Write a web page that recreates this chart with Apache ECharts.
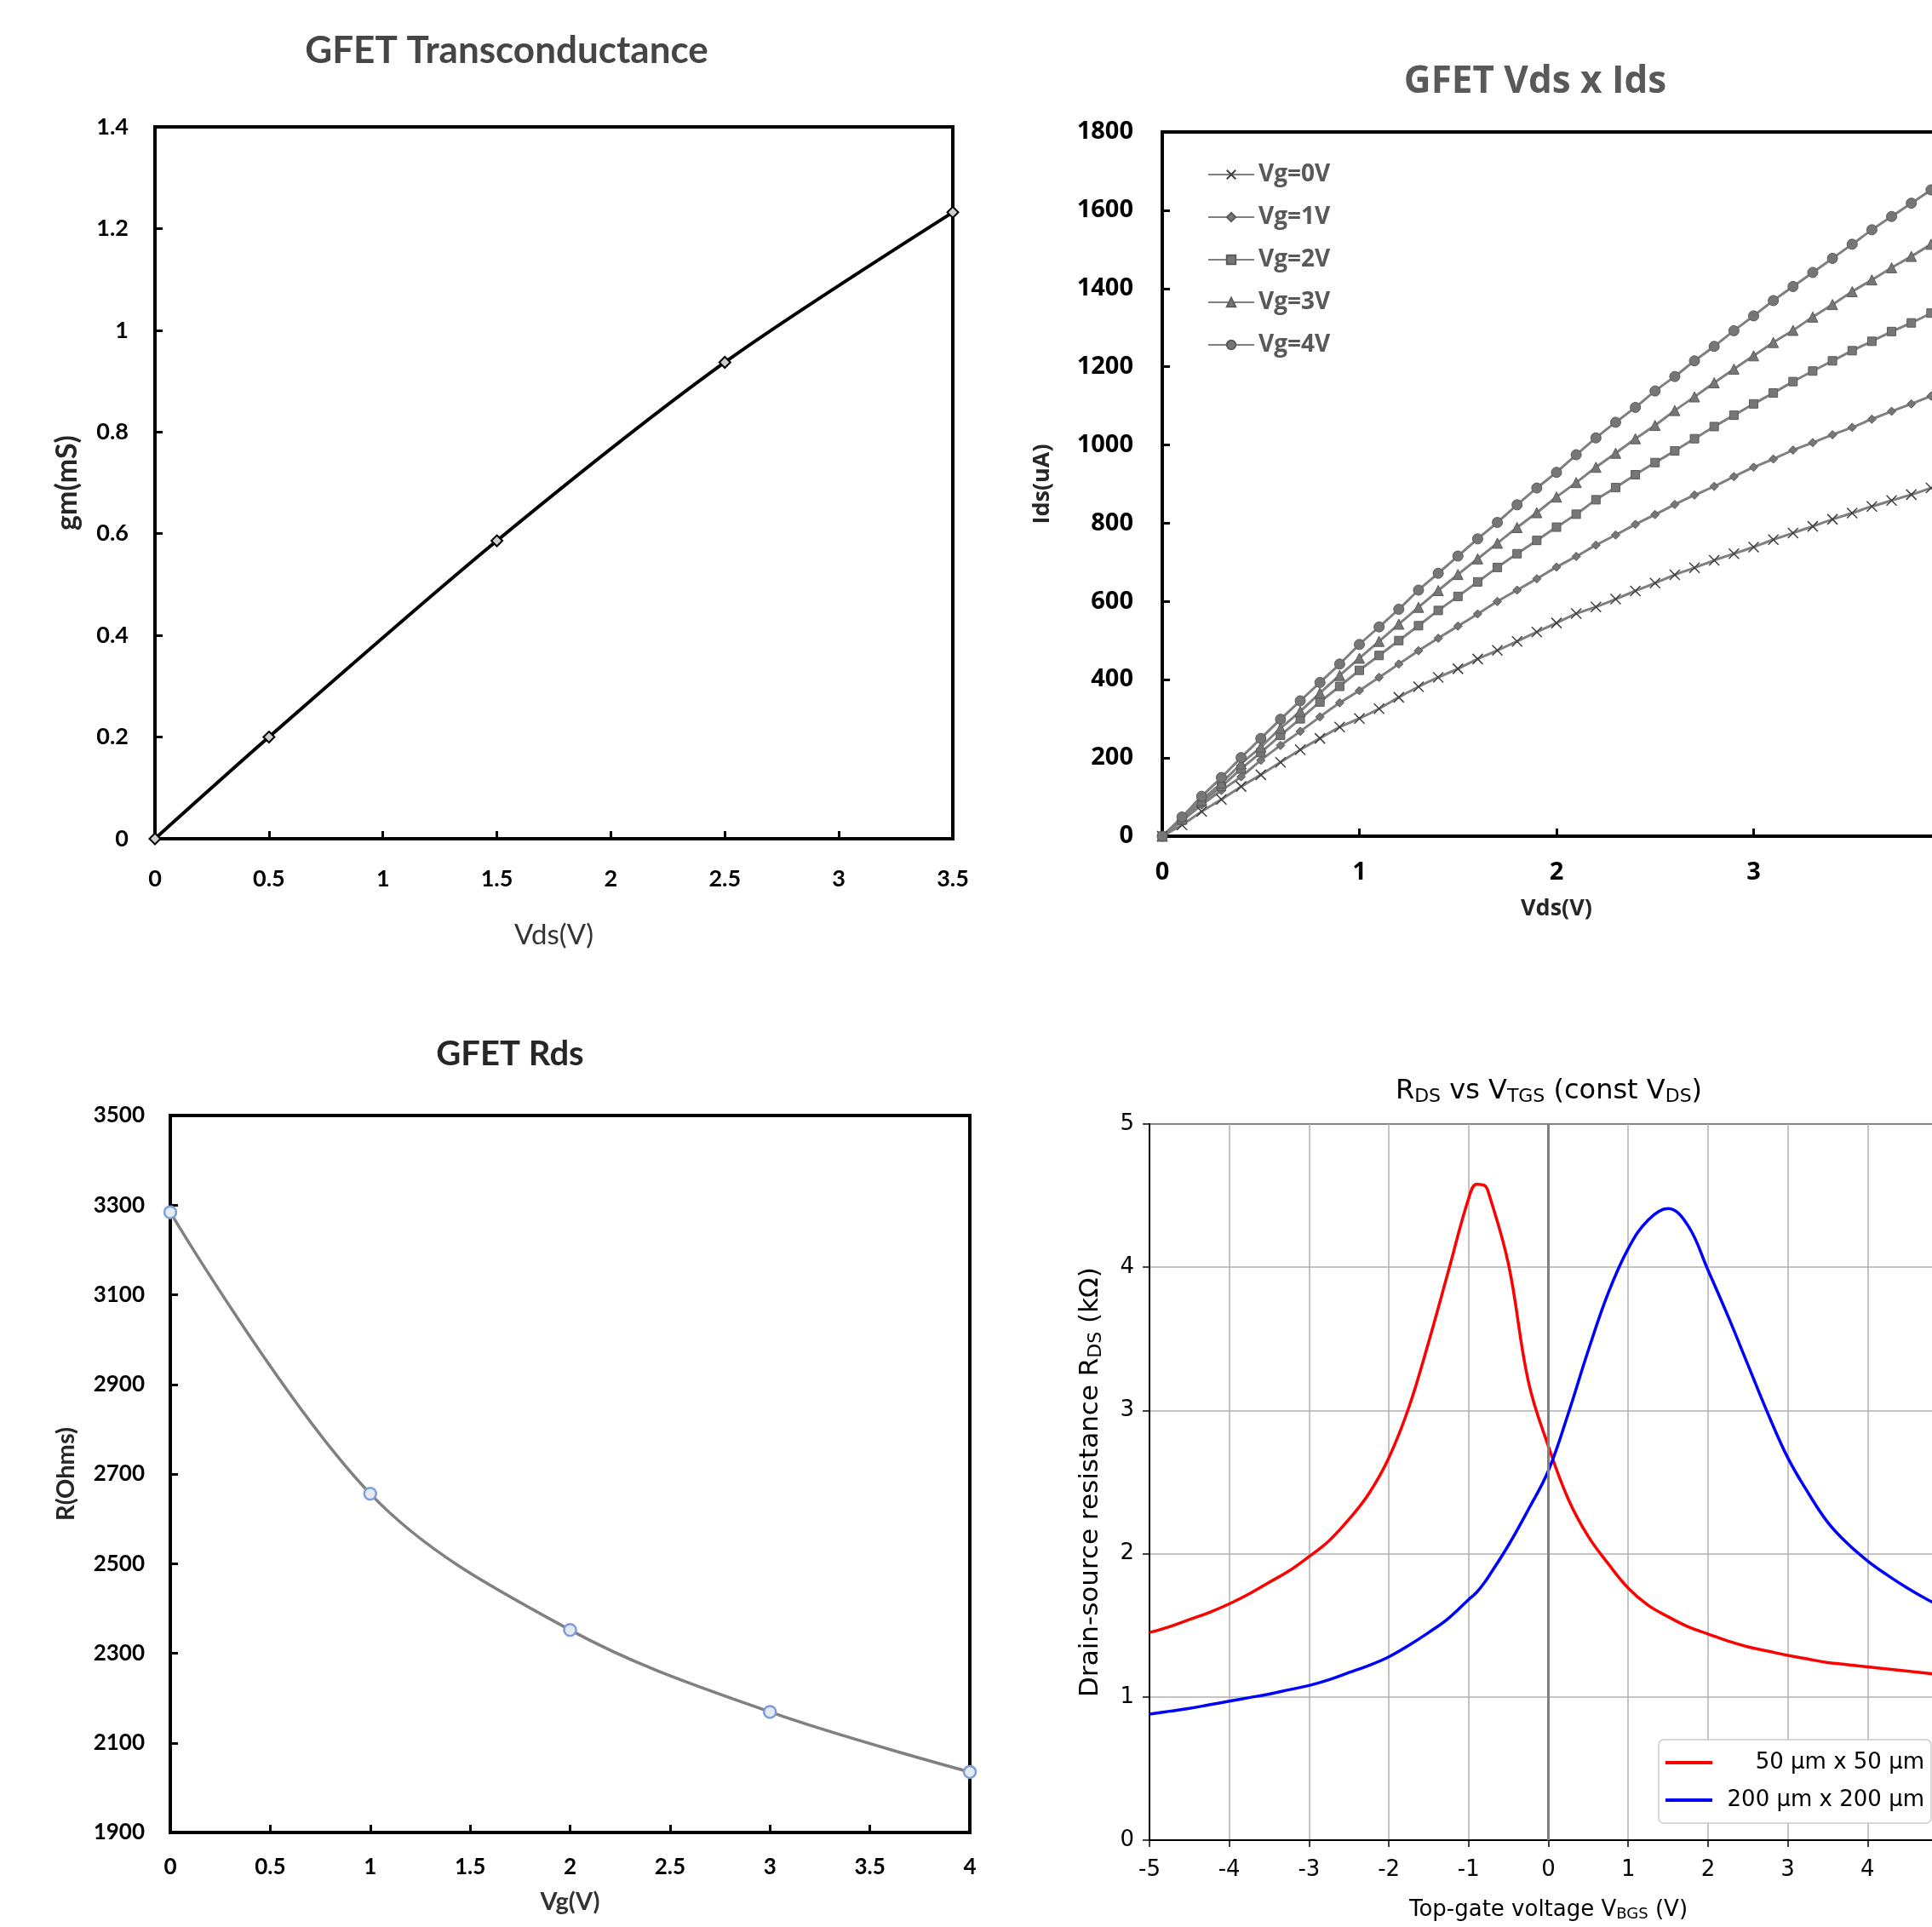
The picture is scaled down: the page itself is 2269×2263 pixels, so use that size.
<!DOCTYPE html>
<html>
<head>
<meta charset="utf-8">
<title>GFET characteristics</title>
<script src="https://cdn.jsdelivr.net/npm/echarts@6.0.0/dist/echarts.min.js"></script>
<style>
  html, body { margin: 0; padding: 0; background: #fff; }
  #main { width: 2269px; height: 2263px; }
</style>
</head>
<body>
<div id="main"></div>
<script>
// --- GFET Transconductance ---
var gmVds = [0, 0.5, 1.5, 2.5, 3.5];
var gmValues = [0, 0.2, 0.586, 0.937, 1.232];

// --- GFET Vds x Ids (uA), one point every 0.1 V ---
var idsNames = ['Vg=0V', 'Vg=1V', 'Vg=2V', 'Vg=3V', 'Vg=4V'];
var idsVds = [0, 0.1, 0.2, 0.3, 0.4, 0.5, 0.6, 0.7, 0.8, 0.9, 1, 1.1, 1.2, 1.3, 1.4, 1.5, 1.6, 1.7, 1.8, 1.9,
  2, 2.1, 2.2, 2.3, 2.4, 2.5, 2.6, 2.7, 2.8, 2.9, 3, 3.1, 3.2, 3.3, 3.4, 3.5, 3.6, 3.7, 3.8, 3.9];
var idsVg0 = [0, 29, 63, 94, 127, 157, 189, 221, 250, 279, 301, 326, 355, 382, 406, 428, 453, 475, 498, 522,
  545, 569, 586, 606, 627, 647, 668, 686, 705, 722, 739, 758, 775, 792, 810, 826, 843, 858, 873, 890];
var idsVg1 = [0, 39, 80, 117, 152, 194, 232, 268, 305, 341, 372, 406, 440, 474, 506, 537, 568, 600, 629, 658,
  688, 715, 744, 770, 797, 822, 848, 872, 894, 919, 943, 964, 987, 1006, 1026, 1045, 1066, 1086, 1105, 1125];
var idsVg2 = [0, 41, 87, 127, 172, 214, 258, 300, 343, 383, 424, 462, 500, 538, 577, 613, 650, 687, 722, 756,
  790, 823, 860, 891, 924, 955, 985, 1016, 1047, 1076, 1105, 1133, 1162, 1189, 1215, 1241, 1265, 1290, 1312, 1337];
var idsVg3 = [0, 44, 92, 136, 185, 228, 276, 319, 366, 411, 455, 498, 542, 585, 628, 669, 709, 749, 789, 827,
  867, 904, 943, 979, 1016, 1050, 1088, 1123, 1159, 1194, 1228, 1262, 1293, 1327, 1359, 1392, 1422, 1453, 1482, 1513];
var idsVg4 = [0, 49, 102, 150, 201, 250, 299, 346, 393, 440, 490, 535, 580, 629, 672, 716, 760, 802, 847, 890,
  930, 975, 1018, 1058, 1096, 1138, 1175, 1215, 1252, 1292, 1330, 1369, 1405, 1441, 1477, 1513, 1550, 1584, 1618, 1652];

// --- GFET Rds ---
var rdsVg = [0, 1, 2, 3, 4];
var rdsOhms = [3284, 2656, 2352, 2169, 2035];

// --- RDS vs VTGS (kOhm) ---
var rdsNames = ['50 µm x 50 µm', '200 µm x 200 µm'];
var vtgs = [-5, -4.75, -4.5, -4.25, -4, -3.75, -3.5, -3.25, -3, -2.75, -2.5, -2.25, -2, -1.75, -1.5, -1.25,
  -1, -0.9, -0.8, -0.75, -0.5, -0.25, 0, 0.25, 0.5, 0.75, 1, 1.25, 1.5, 1.75, 2, 2.25, 2.5, 2.75,
  3, 3.25, 3.5, 3.75, 4, 4.25, 4.5, 4.75, 5];
var rds50 = [1.45, 1.49, 1.54, 1.59, 1.65, 1.72, 1.80, 1.88, 1.98, 2.09, 2.24, 2.42, 2.67, 3.02, 3.48, 3.98,
  4.48, 4.58, 4.57, 4.52, 4.02, 3.2, 2.75, 2.38, 2.12, 1.93, 1.76, 1.64, 1.56, 1.49, 1.44, 1.39, 1.35, 1.32,
  1.29, 1.265, 1.24, 1.225, 1.21, 1.195, 1.18, 1.165, 1.15];
var rds200 = [0.88, 0.90, 0.92, 0.945, 0.97, 0.995, 1.02, 1.05, 1.08, 1.12, 1.17, 1.22, 1.28, 1.36, 1.45, 1.55,
  1.68, 1.73, 1.80, 1.84, 2.06, 2.31, 2.58, 2.98, 3.42, 3.82, 4.13, 4.33, 4.41, 4.29, 3.98, 3.66, 3.32, 2.98,
  2.67, 2.43, 2.22, 2.07, 1.95, 1.85, 1.76, 1.68, 1.61];

function pairs(xs, ys) {
  return xs.map(function (x, i) { return [x, ys[i]]; });
}

// 去掉千位分隔符
function plainNumber(v) {
  return String(parseFloat(Number(v).toFixed(3)));
}

var idsSeries = [idsVg0, idsVg1, idsVg2, idsVg3, idsVg4];
var idsSymbols = ['path://M0,0L10,10M10,0L0,10', 'diamond', 'rect', 'triangle', 'circle'];
var idsSymbolSizes = [12, 10, 10, 12, 12];

// Excel 风格的坐标轴
function excelAxis(grid, font, size, extra) {
  var axis = {
    gridIndex: grid,
    type: 'value',
    axisLine: { show: true, onZero: false, lineStyle: { color: '#000', width: 4 } },
    axisTick: { show: true, inside: true, length: 9, lineStyle: { color: '#000', width: 3 } },
    splitLine: { show: false },
    axisLabel: { fontFamily: font, fontWeight: 'bold', fontSize: size, color: '#000', formatter: plainNumber },
    nameLocation: 'middle'
  };
  return Object.assign(axis, extra);
}

var subRich = function (size) {
  return {
    n: { fontFamily: 'DejaVu Sans', fontWeight: 'normal', fontSize: size, color: '#000' },
    s: { fontFamily: 'DejaVu Sans', fontWeight: 'normal', fontSize: Math.round(size * 0.7), color: '#000',
      padding: [Math.round(size * 0.4), 0, 0, 0] }
  };
};

var series = [];

series.push({
  name: 'gm',
  type: 'line',
  xAxisIndex: 0, yAxisIndex: 0,
  data: pairs(gmVds, gmValues),
  smooth: 0.3,
  symbol: 'diamond',
  symbolSize: 13,
  lineStyle: { color: '#000', width: 4 },
  itemStyle: { color: '#cfcfcf', borderColor: '#000', borderWidth: 2 }
});

idsSeries.forEach(function (vals, i) {
  series.push({
    name: idsNames[i],
    type: 'line',
    xAxisIndex: 1, yAxisIndex: 1,
    data: pairs(idsVds, vals),
    smooth: 0.2,
    symbol: idsSymbols[i],
    symbolSize: idsSymbolSizes[i],
    lineStyle: { color: '#7f7f7f', width: 3 },
    itemStyle: i === 0
      ? { color: '#404040', borderColor: '#404040', borderWidth: 1.5 }
      : { color: '#767676', borderColor: '#5a5a5a', borderWidth: 1 }
  });
});

series.push({
  name: 'Rds',
  type: 'line',
  xAxisIndex: 2, yAxisIndex: 2,
  data: pairs(rdsVg, rdsOhms),
  smooth: 0.35,
  symbol: 'circle',
  symbolSize: 14,
  lineStyle: { color: '#808080', width: 3.5 },
  itemStyle: { color: '#e4e9f3', borderColor: '#7c9fd9', borderWidth: 2.5 }
});

series.push({
  name: rdsNames[0],
  type: 'line',
  xAxisIndex: 3, yAxisIndex: 3,
  data: pairs(vtgs, rds50),
  smooth: 0.4,
  symbol: 'none',
  lineStyle: { color: '#ff0000', width: 3.5 },
  itemStyle: { color: '#ff0000' },
  markLine: {
    silent: true,
    symbol: 'none',
    label: { show: false },
    lineStyle: { color: '#7f7f7f', width: 3, type: 'solid' },
    data: [{ xAxis: 0 }]
  }
});

series.push({
  name: rdsNames[1],
  type: 'line',
  xAxisIndex: 3, yAxisIndex: 3,
  data: pairs(vtgs, rds200),
  smooth: 0.4,
  symbol: 'none',
  lineStyle: { color: '#0000ff', width: 3.5 },
  itemStyle: { color: '#0000ff' }
});

var option = {
  animation: false,
  backgroundColor: '#fff',
  title: [
    { text: 'GFET Transconductance', left: 595, top: 38, textAlign: 'center', padding: 0,
      textStyle: { fontFamily: 'Lato', fontSize: 44, fontWeight: 'bold', color: '#454545' } },
    { text: 'GFET Vds x Ids', left: 1803, top: 74, textAlign: 'center', padding: 0,
      textStyle: { fontFamily: 'Open Sans', fontSize: 44, fontWeight: 'bold', color: '#595959' } },
    { text: 'GFET Rds', left: 599, top: 1218, textAlign: 'center', padding: 0,
      textStyle: { fontFamily: 'Lato', fontSize: 40, fontWeight: 'bold', color: '#262626' } },
    { text: '{n|R}{s|DS}{n| vs V}{s|TGS}{n| (const V}{s|DS}{n|)}', left: 1819, top: 1264, textAlign: 'center', padding: 0,
      textStyle: { fontFamily: 'DejaVu Sans', fontSize: 32, fontWeight: 'normal', color: '#000', rich: subRich(32) } }
  ],
  legend: [
    {
      data: idsNames,
      orient: 'vertical',
      left: 1418, top: 191,
      padding: 0,
      itemWidth: 54, itemHeight: 13, itemGap: 22,
      textStyle: { fontFamily: 'Open Sans', fontWeight: 'bold', fontSize: 28, color: '#595959' }
    },
    {
      data: rdsNames,
      orient: 'vertical',
      left: 1948, top: 2043,
      padding: [14, 8, 14, 8],
      icon: 'rect',
      itemWidth: 55, itemHeight: 4, itemGap: 18,
      backgroundColor: '#fff',
      borderColor: '#cccccc', borderWidth: 1.5, borderRadius: 6,
      formatter: function (name) { return '{t|' + name + '}'; },
      textStyle: {
        fontFamily: 'DejaVu Sans', fontSize: 26, color: '#000',
        rich: { t: { width: 244, align: 'right', fontFamily: 'DejaVu Sans', fontSize: 26, color: '#000' } }
      }
    }
  ],
  grid: [
    { left: 182, top: 149, right: 1150, bottom: 1278, show: true, borderColor: '#000', borderWidth: 4, outerBoundsMode: 'none' },
    { left: 1365, top: 155, right: -22, bottom: 1281, show: true, borderColor: '#000', borderWidth: 4, outerBoundsMode: 'none' },
    { left: 200, top: 1310, right: 1130, bottom: 111, show: true, borderColor: '#000', borderWidth: 4, outerBoundsMode: 'none' },
    { left: 1350, top: 1320, right: -18, bottom: 102, show: true, borderColor: '#000', borderWidth: 2, outerBoundsMode: 'none' }
  ],
  xAxis: [
    excelAxis(0, 'Lato', 27, {
      min: 0, max: 3.5, interval: 0.5,
      name: 'Vds(V)', nameGap: 97,
      nameTextStyle: { fontFamily: 'Lato', fontSize: 33, color: '#333' }
    }),
    excelAxis(1, 'Open Sans', 29, {
      min: 0, max: 4, interval: 1,
      name: 'Vds(V)', nameGap: 72,
      nameTextStyle: { fontFamily: 'Open Sans', fontWeight: 'bold', fontSize: 27, color: '#262626' }
    }),
    excelAxis(2, 'Lato', 26, {
      min: 0, max: 4, interval: 0.5,
      name: 'Vg(V)', nameGap: 67,
      nameTextStyle: { fontFamily: 'Lato', fontWeight: 'bold', fontSize: 29, color: '#333' }
    }),
    {
      gridIndex: 3, type: 'value', min: -5, max: 5, interval: 1,
      axisLine: { show: true, onZero: false, lineStyle: { color: '#000', width: 2 } },
      axisTick: { show: true, inside: false, length: 8, lineStyle: { color: '#000', width: 1.5 } },
      splitLine: { show: true, lineStyle: { color: '#b0b0b0', width: 1.5 } },
      axisLabel: { margin: 22, fontFamily: 'DejaVu Sans', fontSize: 26, color: '#000' },
      name: '{n|Top-gate voltage V}{s|BGS}{n| (V)}',
      nameLocation: 'middle', nameGap: 68,
      nameTextStyle: { fontFamily: 'DejaVu Sans', fontSize: 26, color: '#000', rich: subRich(26) }
    }
  ],
  yAxis: [
    excelAxis(0, 'Lato', 27, {
      min: 0, max: 1.4, interval: 0.2,
      name: 'gm(mS)', nameGap: 86,
      nameTextStyle: { fontFamily: 'Lato', fontWeight: 'bold', fontSize: 34, color: '#262626' }
    }),
    excelAxis(1, 'Open Sans', 29, {
      min: 0, max: 1800, interval: 200,
      name: 'Ids(uA)', nameGap: 127,
      nameTextStyle: { fontFamily: 'Open Sans', fontWeight: 'bold', fontSize: 27, color: '#262626' }
    }),
    excelAxis(2, 'Lato', 26, {
      min: 1900, max: 3500, interval: 200,
      name: 'R(Ohms)', nameGap: 108,
      nameTextStyle: { fontFamily: 'Lato', fontWeight: 'bold', fontSize: 29, color: '#262626' }
    }),
    {
      gridIndex: 3, type: 'value', min: 0, max: 5, interval: 1,
      axisLine: { show: true, onZero: false, lineStyle: { color: '#000', width: 2 } },
      axisTick: { show: true, inside: false, length: 8, lineStyle: { color: '#000', width: 1.5 } },
      splitLine: { show: true, lineStyle: { color: '#b0b0b0', width: 1.5 } },
      axisLabel: { margin: 18, fontFamily: 'DejaVu Sans', fontSize: 26, color: '#000' },
      name: '{n|Drain-source resistance R}{s|DS}{n| (kΩ)}',
      nameLocation: 'middle', nameGap: 52,
      nameTextStyle: { fontFamily: 'DejaVu Sans', fontSize: 31, color: '#000', rich: subRich(31) }
    }
  ],
  series: series
};

// 标签与轴线的距离
option.xAxis[0].axisLabel.margin = 34;
option.yAxis[0].axisLabel.margin = 31;
option.xAxis[1].axisLabel.margin = 28;
option.yAxis[1].axisLabel.margin = 34;
option.xAxis[2].axisLabel.margin = 28;
option.yAxis[2].axisLabel.margin = 30;

var myChart = echarts.init(document.getElementById('main'));
myChart.setOption(option);
</script>
</body>
</html>
